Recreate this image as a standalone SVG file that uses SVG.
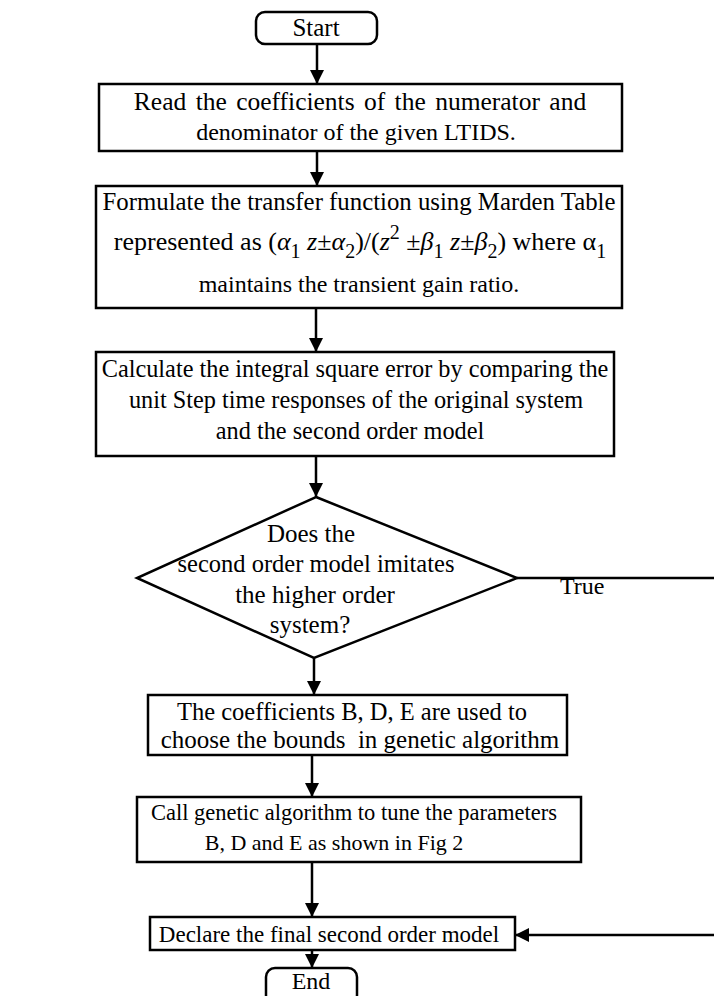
<svg xmlns="http://www.w3.org/2000/svg" width="714" height="996" viewBox="0 0 714 996">
<style>
.b{fill:#fff;stroke:#000;stroke-width:2.5}
.t{font-family:"Liberation Serif","Times New Roman",serif;font-size:24px;fill:#000;text-anchor:middle}
.c{stroke:#000;stroke-width:2.5;fill:none}
.i{font-style:italic}
.s{font-size:20px}
</style>
<defs>
<marker id="ah" markerUnits="userSpaceOnUse" markerWidth="16" markerHeight="16" refX="14" refY="8" orient="auto"><path d="M0,1 L14,8 L0,15 z" fill="#000"/></marker>
</defs>
<rect width="714" height="996" fill="#fff"/>
<g id="connectors">
<line class="c" x1="317" y1="44" x2="317" y2="84" marker-end="url(#ah)"/>
<line class="c" x1="317" y1="151" x2="317" y2="186" marker-end="url(#ah)"/>
<line class="c" x1="316" y1="308" x2="316" y2="352" marker-end="url(#ah)"/>
<line class="c" x1="316" y1="456" x2="316" y2="497" marker-end="url(#ah)"/>
<line class="c" x1="314" y1="658" x2="314" y2="695" marker-end="url(#ah)"/>
<line class="c" x1="312" y1="755" x2="312" y2="797" marker-end="url(#ah)"/>
<line class="c" x1="312" y1="862" x2="312" y2="917" marker-end="url(#ah)"/>
<line class="c" x1="312" y1="950" x2="312" y2="968" marker-end="url(#ah)"/>
<path class="c" d="M517,578 H720 V935 H515" marker-end="url(#ah)"/>
<text class="t" x="560" y="594" style="text-anchor:start">True</text>
</g>
<g id="start">
<rect class="b" x="256" y="12" width="121" height="32" rx="9"/>
<text class="t" x="316" y="36" style="font-size:25px">Start</text>
</g>
<g id="read">
<rect class="b" x="99" y="84" width="523" height="67"/>
<text class="t" x="360" y="110" style="font-size:25.5px;word-spacing:3px">Read the coefficients of the numerator and</text>
<text class="t" x="356" y="140">denominator of the given LTIDS.</text>
</g>
<g id="formulate">
<rect class="b" x="96" y="186" width="526" height="122"/>
<text class="t" x="359" y="210" style="font-size:24.8px">Formulate the transfer function using Marden Table</text>
<text class="t" x="360" y="250" style="font-size:26px">represented as (<tspan class="i">α</tspan><tspan class="s" dy="8">1</tspan><tspan class="i" dy="-8"> z</tspan>±<tspan class="i">α</tspan><tspan class="s" dy="8">2</tspan><tspan dy="-8">)/(</tspan><tspan class="i">z</tspan><tspan class="s" dy="-11">2</tspan><tspan dy="11"> ±</tspan><tspan class="i">β</tspan><tspan class="s" dy="8">1</tspan><tspan class="i" dy="-8"> z</tspan>±<tspan class="i">β</tspan><tspan class="s" dy="8">2</tspan><tspan dy="-8">) where α</tspan><tspan class="s" dy="8">1</tspan></text>
<text class="t" x="359" y="292">maintains the transient gain ratio.</text>
</g>
<g id="calculate">
<rect class="b" x="96" y="352" width="518" height="104"/>
<text class="t" x="355" y="377" style="font-size:24.3px">Calculate the integral square error by comparing the</text>
<text class="t" x="356" y="408" style="font-size:24.3px">unit Step time responses of the original system</text>
<text class="t" x="350" y="439" style="font-size:24.3px">and the second order model</text>
</g>
<g id="decision">
<polygon class="b" points="316,497 517,578 314,658 137,578"/>
<text class="t" x="311" y="542" style="font-size:25px">Does the</text>
<text class="t" x="316" y="572" style="font-size:24.5px">second order model imitates</text>
<text class="t" x="315" y="603" style="font-size:25px">the higher order</text>
<text class="t" x="310" y="633" style="font-size:25px">system?</text>
</g>
<g id="bounds">
<rect class="b" x="148" y="695" width="419" height="60"/>
<text class="t" x="352" y="720" style="font-size:24.5px">The coefficients B, D, E are used to</text>
<text class="t" x="360" y="748" style="font-size:25px" xml:space="preserve">choose the bounds  in genetic algorithm</text>
</g>
<g id="call">
<rect class="b" x="137" y="797" width="444" height="65"/>
<text class="t" x="354" y="820" style="font-size:22.5px">Call genetic algorithm to tune the parameters</text>
<text class="t" x="334" y="850" style="font-size:22px">B, D and E as shown in Fig 2</text>
</g>
<g id="declare">
<rect class="b" x="150" y="917" width="365" height="33"/>
<text class="t" x="329" y="942" style="font-size:23px">Declare the final second order model</text>
</g>
<g id="end">
<rect class="b" x="266" y="968" width="91" height="36" rx="9"/>
<text class="t" x="311" y="989" style="font-size:24px">End</text>
</g>
</svg>
